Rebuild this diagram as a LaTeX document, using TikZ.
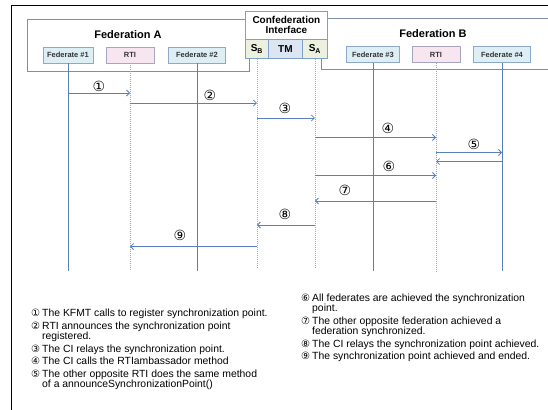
\documentclass[tikz,border=0pt]{standalone}
\usepackage{fontspec}
\setmainfont{Liberation Sans}
\newfontfamily\symfont{DejaVu Sans}
\usetikzlibrary{arrows.meta}
\definecolor{lineblue}{HTML}{5A7FBF}
\definecolor{dotblue}{HTML}{8FAADC}
\definecolor{fedfill}{HTML}{DDEFF5}
\definecolor{fedborder}{HTML}{8CAAC8}
\definecolor{rtifill}{HTML}{F7E6F0}
\definecolor{rtiborder}{HTML}{A6A6C0}
\definecolor{grpborder}{HTML}{7F8FA8}
\definecolor{cellgreen}{HTML}{EBF1DE}
\definecolor{cellblue}{HTML}{DCE6F2}
\definecolor{ciborder}{HTML}{7F9FCF}
\begin{document}
\begin{tikzpicture}[x=1pt,y=-1pt,
  fedbox/.style={draw=fedborder,fill=fedfill,line width=0.8pt,minimum height=16pt,inner sep=0pt,font=\fontsize{7.5}{8}\selectfont\bfseries,text=black!80},
  rtibox/.style={fedbox,draw=rtiborder,fill=rtifill},
  grp/.style={draw=grpborder,line width=0.8pt},
  title/.style={font=\fontsize{11}{12}\selectfont\bfseries,inner sep=0pt},
  cell/.style={draw=ciborder,line width=0.8pt,minimum height=19pt,inner sep=0pt,anchor=north west,font=\fontsize{10}{10}\selectfont\bfseries},
  life/.style={draw=lineblue,line width=0.8pt},
  lifedot/.style={draw=dotblue,line width=0.8pt,dash pattern=on 1pt off 1pt},
  msg/.style={draw=lineblue,line width=0.8pt,-{Straight Barb[length=3pt,width=6pt]}},
  num/.style={font=\symfont\fontsize{14}{14}\selectfont,inner sep=0pt},
  legnum/.style={font=\symfont\fontsize{10}{10}\selectfont,anchor=base west,inner sep=0pt},
  legtext/.style={font=\fontsize{10.4}{10.4}\selectfont,anchor=base west,inner sep=0pt}
]
\useasboundingbox (0,0) rectangle (548,409);
% outer frame
\draw[black,line width=1pt] (11,420) -- (11,6) -- (560,6);
% federation groups
\draw[grp] (27,19) rectangle (249,71);
\draw[grp] (560,18) -- (321,18) -- (321,69) -- (560,69);
\node[title] (tA) at (128,35) {Federation A};
\node[title] (tB) at (433,34) {Federation B};
% confederation interface
\node[draw=ciborder,fill=white,line width=0.8pt,minimum width=82pt,minimum height=28pt,inner sep=0pt,anchor=north west,align=center,font=\fontsize{10}{10}\selectfont\bfseries] (ci) at (245,11) {Confederation\\Interface};
\node[cell,fill=cellgreen,minimum width=23pt] (sb) at (245,39) {S\textsubscript{B}};
\node[cell,fill=cellblue,minimum width=34pt] (tm) at (268,39) {TM};
\node[cell,fill=cellgreen,minimum width=25pt] (sa) at (302,39) {S\textsubscript{A}};
% federates
\node[fedbox,minimum width=50pt] (f1) at (68,55) {Federate \#1};
\node[rtibox,minimum width=48pt] (rA) at (130,55) {RTI};
\node[fedbox,minimum width=57pt] (f2) at (197,55) {Federate \#2};
\node[fedbox,minimum width=53pt] (f3) at (373,54.5) {Federate \#3};
\node[rtibox,minimum width=48pt] (rB) at (436,54.5) {RTI};
\node[fedbox,minimum width=57pt] (f4) at (502,54.5) {Federate \#4};
% lifelines
\coordinate (bot) at (0,271);
\coordinate (botS) at (0,267);
\draw[life] (f1.south) -- (f1.south |- bot);
\draw[lifedot] (rA.south) -- (rA.south |- bot);
\draw[life] (f2.south) -- (f2.south |- bot);
\draw[lifedot] (sb.south) -- (sb.south |- botS);
\draw[lifedot] (sa.south) -- (sa.south |- botS);
\draw[life] (f3.south) -- (f3.south |- bot);
\draw[lifedot] (rB.south) -- (rB.south |- bot);
\draw[life] (f4.south) -- (f4.south |- bot);
% messages
\draw[msg] (f1.south |- 0,93) -- (rA.south |- 0,93);
\node[num] (n1) at (99,86) {①};
\draw[msg] (rA.south |- 0,103) -- (sb.south |- 0,103);
\node[num] (n2) at (210,95) {②};
\draw[msg] (sb.south |- 0,118) -- (sa.south |- 0,118);
\node[num] (n3) at (285,108) {③};
\draw[msg] (sa.south |- 0,137.5) -- (rB.south |- 0,137.5);
\node[num] (n4) at (388,128) {④};
\draw[msg] (rB.south |- 0,152.5) -- (f4.south |- 0,152.5);
\node[num] (n5) at (474,144) {⑤};
\draw[msg] (f4.south |- 0,161.5) -- (rB.south |- 0,161.5);
\draw[msg] (sa.south |- 0,175.5) -- (rB.south |- 0,175.5);
\node[num] (n6) at (389,166) {⑥};
\draw[msg] (rB.south |- 0,201) -- (sa.south |- 0,201);
\node[num] (n7) at (345,190.5) {⑦};
\draw[msg] (sa.south |- 0,225) -- (sb.south |- 0,225);
\node[num] (n8) at (285,214) {⑧};
\draw[msg] (sb.south |- 0,246.5) -- (rA.south |- 0,246.5);
\node[num] (n9) at (180,235) {⑨};
% legend, left column
\node[legnum] (l1n) at (31,316.5) {①};
\node[legtext] (l1) at (42,316.5) {The KFMT calls to register synchronization point.};
\node[legnum] (l2n) at (31,329.5) {②};
\node[legtext] (l2) at (42,329.5) {RTI announces the synchronization point};
\node[legtext] (l2b) at (42,339.5) {registered.};
\node[legnum] (l3n) at (31,352) {③};
\node[legtext] (l3) at (42,352) {The CI relays the synchronization point.};
\node[legnum] (l4n) at (31,364.5) {④};
\node[legtext] (l4) at (42,364.5) {The CI calls the RTIambassador method};
\node[legnum] (l5n) at (31,377) {⑤};
\node[legtext] (l5) at (42,377) {The other opposite RTI does the same method};
\node[legtext] (l5b) at (42,387) {of a announceSynchronizationPoint()};
% legend, right column
\node[legnum] (l6n) at (301,301.5) {⑥};
\node[legtext] (l6) at (312,301.5) {All federates are achieved the synchronization};
\node[legtext] (l6b) at (312,311.5) {point.};
\node[legnum] (l7n) at (301,324.5) {⑦};
\node[legtext] (l7) at (312,324.5) {The other opposite federation achieved a};
\node[legtext] (l7b) at (312,334.5) {federation synchronized.};
\node[legnum] (l8n) at (301,347) {⑧};
\node[legtext] (l8) at (312,347) {The CI relays the synchronization point achieved.};
\node[legnum] (l9n) at (301,359.5) {⑨};
\node[legtext] (l9) at (312,359.5) {The synchronization point achieved and ended.};
\end{tikzpicture}
\end{document}
